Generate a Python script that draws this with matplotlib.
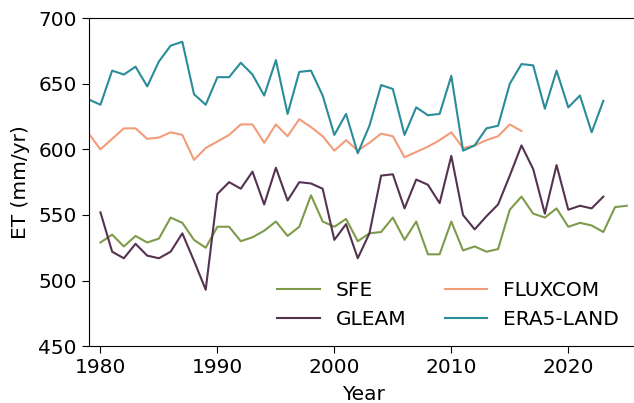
import numpy as np
import matplotlib
matplotlib.use("Agg")
import matplotlib.pyplot as plt

# annual ET (mm/yr)
sfe_years = np.arange(1980, 2026)
sfe = [529, 535, 526, 534, 529, 532, 548, 544, 531, 525,
       541, 541, 530, 533, 538, 545, 534, 541, 565, 545,
       541, 547, 530, 536, 537, 548, 531, 545, 520, 520,
       545, 523, 526, 522, 524, 554, 564, 551, 548, 555,
       541, 544, 542, 537, 556, 557]

gleam_years = np.arange(1980, 2024)
gleam = [552, 522, 517, 528, 519, 517, 522, 536, 515, 493,
         566, 575, 570, 583, 558, 586, 561, 575, 574, 570,
         531, 543, 517, 536, 580, 581, 555, 577, 573, 559,
         595, 550, 539, 549, 558, 580, 603, 585, 551, 588,
         554, 557, 555, 564]

fluxcom_years = np.arange(1979, 2017)
fluxcom = [612, 600, 608, 616, 616, 608, 609, 613, 611, 592,
           601, 606, 611, 619, 619, 605, 619, 610, 623, 617,
           610, 599, 607, 599, 605, 612, 610, 594, 598, 602,
           607, 613, 601, 603, 607, 610, 619, 614]

era5_years = np.arange(1979, 2024)
era5 = [638, 634, 660, 657, 663, 648, 667, 679, 682, 642,
        634, 655, 655, 666, 657, 641, 668, 627, 659, 660,
        641, 611, 627, 597, 618, 649, 646, 611, 632, 626,
        627, 656, 599, 603, 616, 618, 650, 665, 664, 631,
        660, 632, 641, 613, 637]

plt.rcParams['font.size'] = 14.5

fig = plt.figure(figsize=(6.34, 4.03), dpi=100)
ax = fig.add_axes([0.140, 0.141, 0.867, 0.814])

ax.plot(sfe_years, sfe, color='#7d9b4a', lw=1.5, label='SFE')
ax.plot(gleam_years, gleam, color='#553250', lw=1.5, label='GLEAM')
ax.plot(fluxcom_years, fluxcom, color='#f29c7a', lw=1.5, label='FLUXCOM')
ax.plot(era5_years, era5, color='#2a8c99', lw=1.5, label='ERA5-LAND')

ax.set_xlim(1979, 2026)
ax.set_ylim(450, 700)
ax.set_xticks([1980, 1990, 2000, 2010, 2020])
ax.set_yticks([450, 500, 550, 600, 650, 700])
ax.tick_params(length=5)
ax.set_xlabel('Year', labelpad=6)
ax.set_ylabel('ET (mm/yr)', labelpad=6)

ax.legend(loc='lower right', ncol=2, frameon=False, handlelength=2.1,
          columnspacing=1.9, borderaxespad=0.3, bbox_to_anchor=(0.99, 0.01))

fig.savefig('out.png', dpi=100)
